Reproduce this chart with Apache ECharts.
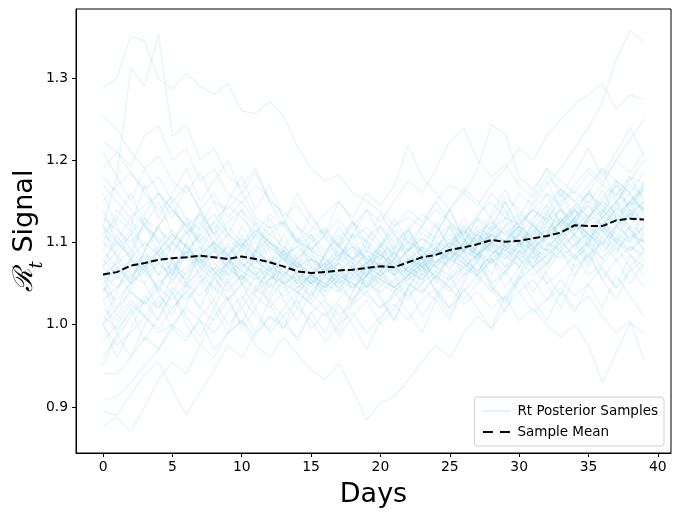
<!DOCTYPE html>
<html>
<head>
<meta charset="utf-8">
<script src="https://cdn.jsdelivr.net/npm/echarts@6/dist/echarts.min.js"></script>
<style>
html,body{margin:0;padding:0;background:#fff;}
#chart{width:680px;height:516px;}
</style>
</head>
<body>
<div id="chart"></div>
<script>
const days = [0,1,2,3,4,5,6,7,8,9,10,11,12,13,14,15,16,17,18,19,20,21,22,23,24,25,26,27,28,29,30,31,32,33,34,35,36,37,38,39];
const xTicks = [0,5,10,15,20,25,30,35,40];
const yTicks = [0.9,1.0,1.1,1.2,1.3];

const sampleMean = [1.061,1.064,1.072,1.075,1.079,1.081,1.082,1.084,1.082,1.080,
  1.083,1.080,1.076,1.071,1.065,1.063,1.064,1.066,1.067,1.069,
  1.071,1.070,1.076,1.082,1.085,1.091,1.094,1.098,1.103,1.101,
  1.102,1.105,1.108,1.112,1.121,1.120,1.120,1.127,1.129,1.128];

const s01 = [1.288,1.300,1.351,1.345,1.299,1.287,1.306,1.290,1.280,1.293,1.260,1.257,1.272,1.254,1.217,1.190,1.175,1.182,1.160,1.150,1.138,1.120,1.131,1.118,1.105,1.122,1.110,1.098,1.115,1.130,1.122,1.140,1.128,1.150,1.162,1.148,1.170,1.158,1.180,1.172];
const s02 = [1.120,1.180,1.313,1.290,1.353,1.229,1.244,1.200,1.215,1.180,1.168,1.190,1.150,1.138,1.120,1.105,1.118,1.096,1.110,1.102,1.085,1.098,1.090,1.112,1.100,1.094,1.120,1.108,1.090,1.085,1.100,1.092,1.110,1.125,1.118,1.135,1.120,1.142,1.130,1.150];
const s03 = [1.254,1.238,1.210,1.190,1.205,1.175,1.160,1.185,1.150,1.140,1.162,1.130,1.118,1.125,1.100,1.092,1.108,1.085,1.095,1.080,1.072,1.088,1.065,1.080,1.092,1.078,1.098,1.085,1.110,1.095,1.088,1.105,1.090,1.115,1.128,1.110,1.098,1.120,1.105,1.118];
const s04 = [1.223,1.210,1.193,1.230,1.242,1.200,1.215,1.175,1.190,1.160,1.148,1.170,1.155,1.132,1.145,1.120,1.110,1.128,1.105,1.118,1.100,1.085,1.102,1.090,1.075,1.095,1.082,1.100,1.088,1.070,1.085,1.075,1.092,1.080,1.098,1.110,1.090,1.105,1.095,1.080];
const s05 = [0.876,0.888,0.870,0.900,0.933,0.955,0.940,0.975,0.960,0.990,1.005,0.985,1.010,1.000,0.985,1.015,1.030,1.012,1.025,1.040,1.020,1.035,1.050,1.038,1.060,1.045,1.070,1.058,1.040,1.065,1.080,1.060,1.075,1.090,1.070,1.085,1.100,1.078,1.095,1.085];
const s06 = [0.895,0.890,0.915,0.940,0.955,0.921,0.890,0.918,0.945,0.975,0.960,0.990,1.010,0.995,1.020,1.005,0.980,1.000,1.015,0.990,1.010,1.025,1.005,1.030,1.045,1.020,1.040,1.060,1.045,1.030,1.055,1.070,1.050,1.065,1.085,1.060,1.075,1.095,1.070,1.090];
const s07 = [0.908,0.912,0.930,0.950,0.970,0.995,0.980,1.010,1.030,1.000,1.020,1.045,1.030,1.055,1.040,1.025,1.050,1.065,1.045,1.060,1.080,1.062,1.075,1.095,1.070,1.088,1.105,1.085,1.100,1.120,1.095,1.110,1.130,1.105,1.125,1.145,1.120,1.140,1.160,1.135];
const s08 = [0.941,0.940,0.960,0.985,0.970,1.000,1.020,1.005,0.990,1.015,1.035,1.010,0.995,1.020,1.040,1.025,1.010,1.030,1.050,1.035,1.020,1.040,1.060,1.045,1.030,1.055,1.075,1.060,1.080,1.065,1.090,1.070,1.085,1.105,1.080,1.095,1.115,1.090,1.110,1.100];
const s09 = [1.020,1.005,1.030,1.010,0.990,1.000,0.985,1.005,0.970,0.990,1.005,0.975,0.960,0.985,0.965,0.945,0.933,0.953,0.920,0.884,0.905,0.912,0.933,0.955,0.975,0.960,0.990,1.010,0.995,1.020,1.040,1.015,1.030,1.055,1.035,1.050,1.070,1.045,1.065,1.080];
const s10 = [1.060,1.045,1.070,1.085,1.060,1.075,1.050,1.065,1.090,1.070,1.055,1.080,1.060,1.045,1.065,1.050,1.035,1.055,1.070,1.045,1.060,1.075,1.050,1.040,1.060,1.045,1.025,1.040,1.020,1.035,1.005,1.020,1.000,0.985,1.000,0.975,0.929,0.966,1.002,0.990];
const s11 = [1.100,1.085,1.060,1.075,1.090,1.070,1.055,1.080,1.065,1.045,1.060,1.040,1.055,1.070,1.050,1.035,1.060,1.045,1.030,1.050,1.065,1.045,1.060,1.080,1.055,1.040,1.060,1.075,1.050,1.065,1.040,1.055,1.030,1.045,1.020,1.035,1.010,0.990,1.005,0.957];
const s12 = [1.050,1.070,1.055,1.080,1.095,1.075,1.060,1.085,1.100,1.080,1.065,1.090,1.075,1.060,1.080,1.095,1.070,1.085,1.100,1.080,1.095,1.115,1.100,1.120,1.140,1.125,1.110,1.135,1.150,1.130,1.160,1.145,1.170,1.190,1.215,1.240,1.270,1.323,1.358,1.344];
const s13 = [1.080,1.100,1.085,1.065,1.090,1.110,1.095,1.075,1.100,1.120,1.100,1.085,1.110,1.095,1.080,1.100,1.115,1.095,1.080,1.105,1.120,1.100,1.115,1.135,1.120,1.140,1.160,1.145,1.170,1.190,1.215,1.200,1.230,1.250,1.268,1.280,1.293,1.262,1.280,1.274];
const s14 = [1.070,1.055,1.080,1.100,1.085,1.065,1.090,1.110,1.095,1.075,1.095,1.115,1.100,1.080,1.095,1.110,1.090,1.105,1.125,1.110,1.095,1.120,1.140,1.125,1.150,1.170,1.160,1.190,1.243,1.232,1.180,1.165,1.190,1.175,1.160,1.185,1.170,1.200,1.185,1.210];
const s15 = [1.040,1.060,1.080,1.065,1.045,1.070,1.090,1.075,1.060,1.085,1.100,1.080,1.065,1.090,1.075,1.060,1.085,1.100,1.120,1.140,1.125,1.150,1.175,1.160,1.190,1.223,1.239,1.200,1.180,1.195,1.170,1.155,1.180,1.165,1.150,1.170,1.190,1.175,1.160,1.185];
const s16 = [1.110,1.130,1.115,1.095,1.120,1.140,1.120,1.100,1.125,1.145,1.130,1.110,1.135,1.120,1.100,1.115,1.135,1.150,1.130,1.160,1.145,1.169,1.218,1.180,1.160,1.140,1.165,1.150,1.130,1.155,1.140,1.120,1.145,1.165,1.150,1.130,1.155,1.175,1.160,1.140];
const s17 = [1.060,1.075,1.090,1.070,1.085,1.100,1.080,1.095,1.075,1.060,1.080,1.070,1.055,1.065,1.050,1.060,1.075,1.060,1.070,1.085,1.070,1.060,1.080,1.095,1.085,1.100,1.090,1.110,1.095,1.105,1.120,1.105,1.115,1.130,1.115,1.125,1.140,1.120,1.135,1.125];
const s18 = [1.030,1.045,1.060,1.050,1.075,1.060,1.085,1.070,1.095,1.080,1.065,1.055,1.070,1.050,1.040,1.055,1.045,1.060,1.050,1.065,1.055,1.045,1.060,1.075,1.065,1.080,1.095,1.085,1.100,1.090,1.110,1.095,1.105,1.120,1.140,1.125,1.115,1.135,1.150,1.140];
const s19 = [1.130,1.115,1.100,1.120,1.105,1.090,1.110,1.125,1.100,1.085,1.105,1.090,1.075,1.090,1.070,1.080,1.065,1.075,1.090,1.075,1.085,1.070,1.080,1.065,1.085,1.100,1.090,1.080,1.100,1.115,1.100,1.090,1.110,1.125,1.140,1.120,1.105,1.130,1.115,1.100];
const s20 = [1.000,1.020,1.040,1.025,1.050,1.065,1.045,1.070,1.055,1.040,1.060,1.080,1.065,1.050,1.060,1.045,1.070,1.055,1.065,1.050,1.040,1.055,1.070,1.060,1.080,1.070,1.090,1.105,1.090,1.080,1.095,1.115,1.100,1.090,1.110,1.130,1.115,1.100,1.120,1.110];
const s21 = [1.170,1.150,1.130,1.145,1.160,1.140,1.120,1.135,1.110,1.125,1.140,1.120,1.100,1.085,1.095,1.080,1.070,1.085,1.075,1.060,1.075,1.065,1.080,1.070,1.090,1.080,1.100,1.090,1.075,1.095,1.110,1.095,1.080,1.100,1.120,1.105,1.125,1.110,1.100,1.120];
const s22 = [0.980,1.000,1.025,1.010,1.035,1.020,1.040,1.060,1.045,1.030,1.050,1.065,1.050,1.035,1.045,1.060,1.050,1.040,1.055,1.070,1.060,1.045,1.065,1.055,1.075,1.090,1.080,1.065,1.085,1.100,1.090,1.080,1.095,1.110,1.095,1.115,1.100,1.120,1.140,1.125];
const s23 = [1.090,1.070,1.050,1.065,1.080,1.100,1.085,1.110,1.125,1.105,1.090,1.110,1.095,1.080,1.070,1.085,1.065,1.080,1.070,1.060,1.075,1.060,1.070,1.085,1.100,1.085,1.075,1.095,1.110,1.100,1.085,1.100,1.120,1.110,1.130,1.150,1.135,1.160,1.145,1.165];
const s24 = [1.150,1.170,1.185,1.160,1.140,1.155,1.130,1.115,1.135,1.110,1.095,1.115,1.100,1.090,1.075,1.090,1.080,1.065,1.080,1.090,1.080,1.095,1.085,1.070,1.085,1.100,1.115,1.100,1.120,1.110,1.125,1.140,1.125,1.110,1.130,1.145,1.130,1.150,1.170,1.155];
const s25 = [1.010,0.995,1.015,1.035,1.020,1.045,1.030,1.050,1.070,1.055,1.075,1.060,1.045,1.060,1.075,1.060,1.045,1.060,1.050,1.040,1.055,1.045,1.035,1.050,1.065,1.055,1.070,1.085,1.075,1.090,1.080,1.070,1.085,1.100,1.085,1.100,1.120,1.105,1.090,1.110];
const s26 = [1.070,1.090,1.110,1.130,1.115,1.100,1.125,1.105,1.090,1.110,1.095,1.080,1.100,1.085,1.070,1.060,1.075,1.090,1.080,1.070,1.085,1.075,1.090,1.105,1.095,1.080,1.100,1.120,1.105,1.090,1.110,1.130,1.145,1.125,1.110,1.130,1.150,1.135,1.120,1.145];
const s27 = [1.045,1.030,1.050,1.070,1.090,1.110,1.095,1.080,1.060,1.075,1.090,1.075,1.095,1.080,1.060,1.050,1.065,1.050,1.065,1.075,1.065,1.080,1.065,1.080,1.070,1.060,1.080,1.095,1.110,1.095,1.115,1.100,1.090,1.110,1.125,1.110,1.095,1.115,1.135,1.150];
const s28 = [1.120,1.100,1.080,1.060,1.075,1.055,1.070,1.085,1.065,1.050,1.070,1.085,1.070,1.060,1.045,1.060,1.050,1.065,1.055,1.070,1.060,1.070,1.055,1.075,1.090,1.105,1.090,1.110,1.125,1.110,1.100,1.120,1.105,1.125,1.145,1.160,1.140,1.125,1.150,1.165];
const s29 = [1.180,1.160,1.140,1.120,1.100,1.115,1.095,1.075,1.090,1.070,1.055,1.070,1.060,1.050,1.065,1.055,1.040,1.055,1.045,1.060,1.050,1.040,1.055,1.070,1.060,1.080,1.070,1.085,1.100,1.085,1.070,1.090,1.075,1.095,1.110,1.095,1.080,1.100,1.085,1.070];
const s30 = [0.960,0.985,1.010,1.030,1.055,1.040,1.065,1.085,1.100,1.085,1.070,1.090,1.105,1.085,1.070,1.080,1.065,1.050,1.060,1.075,1.090,1.075,1.060,1.075,1.095,1.110,1.095,1.115,1.100,1.120,1.135,1.120,1.105,1.125,1.145,1.130,1.150,1.170,1.155,1.140];
const s31 = [1.190,1.210,1.185,1.165,1.180,1.150,1.170,1.140,1.160,1.130,1.150,1.125,1.110,1.125,1.105,1.090,1.110,1.095,1.080,1.095,1.085,1.070,1.090,1.105,1.090,1.075,1.090,1.110,1.095,1.080,1.100,1.115,1.135,1.120,1.140,1.160,1.145,1.130,1.150,1.170];
const s32 = [1.080,1.060,1.040,1.025,1.045,1.030,1.050,1.035,1.055,1.075,1.060,1.045,1.065,1.080,1.065,1.050,1.065,1.080,1.095,1.080,1.065,1.050,1.070,1.085,1.070,1.090,1.080,1.065,1.085,1.100,1.120,1.105,1.125,1.140,1.125,1.110,1.130,1.150,1.175,1.200];
const s33 = [1.000,0.975,0.990,1.010,0.995,1.020,1.040,1.020,1.005,1.030,1.050,1.035,1.020,1.040,1.055,1.040,1.060,1.075,1.060,1.045,1.065,1.080,1.065,1.055,1.075,1.090,1.075,1.060,1.080,1.095,1.080,1.100,1.115,1.095,1.080,1.105,1.120,1.100,1.090,1.105];
const s34 = [1.110,1.095,1.115,1.135,1.160,1.140,1.120,1.100,1.080,1.095,1.075,1.060,1.080,1.065,1.055,1.070,1.060,1.045,1.060,1.075,1.095,1.080,1.100,1.090,1.075,1.095,1.110,1.130,1.115,1.100,1.120,1.140,1.160,1.145,1.170,1.190,1.175,1.200,1.225,1.250];
const s35 = [1.100,1.140,1.120,1.170,1.130,1.160,1.190,1.150,1.175,1.200,1.160,1.185,1.150,1.120,1.160,1.130,1.110,1.150,1.125,1.100,1.135,1.110,1.090,1.120,1.150,1.125,1.100,1.130,1.160,1.140,1.110,1.150,1.175,1.140,1.120,1.160,1.190,1.150,1.130,1.170];
const s36 = [1.030,0.990,1.020,0.980,1.010,1.040,1.000,0.975,1.010,1.035,0.995,1.020,0.990,1.010,1.030,0.995,1.015,0.985,1.010,1.030,1.000,1.020,1.045,1.010,1.035,1.060,1.030,1.050,1.080,1.045,1.070,1.040,1.065,1.090,1.060,1.085,1.055,1.080,1.050,1.075];
const s37 = [1.070,1.110,1.080,1.130,1.100,1.060,1.100,1.140,1.110,1.080,1.120,1.090,1.130,1.100,1.070,1.105,1.085,1.120,1.095,1.060,1.095,1.130,1.100,1.070,1.110,1.140,1.105,1.080,1.115,1.150,1.120,1.090,1.135,1.165,1.130,1.100,1.140,1.175,1.140,1.110];
const s38 = [1.050,1.010,1.045,1.075,1.040,1.010,1.050,1.020,1.060,1.030,1.000,1.040,1.070,1.030,1.005,1.040,1.020,0.990,1.030,1.060,1.030,1.005,1.045,1.070,1.040,1.020,1.055,1.085,1.050,1.025,1.060,1.090,1.060,1.035,1.075,1.100,1.065,1.045,1.085,1.060];
const s39 = [1.140,1.100,1.130,1.090,1.120,1.150,1.110,1.135,1.095,1.060,1.095,1.125,1.090,1.055,1.085,1.110,1.075,1.040,1.075,1.100,1.065,1.095,1.120,1.085,1.055,1.090,1.120,1.090,1.060,1.100,1.130,1.095,1.070,1.110,1.140,1.105,1.080,1.120,1.150,1.120];
const s40 = [1.000,1.040,1.080,1.050,1.020,1.060,1.100,1.070,1.040,1.075,1.110,1.080,1.045,1.090,1.120,1.090,1.060,1.095,1.125,1.090,1.055,1.090,1.115,1.080,1.110,1.140,1.105,1.075,1.110,1.140,1.100,1.070,1.110,1.145,1.110,1.080,1.120,1.150,1.115,1.090];
const s41 = [1.160,1.120,1.090,1.125,1.085,1.050,1.090,1.060,1.030,1.070,1.100,1.065,1.035,1.075,1.105,1.070,1.040,1.080,1.110,1.075,1.045,1.080,1.110,1.080,1.050,1.085,1.115,1.085,1.120,1.150,1.115,1.085,1.125,1.160,1.125,1.095,1.135,1.170,1.135,1.100];
const s42 = [1.090,1.130,1.160,1.120,1.150,1.110,1.080,1.120,1.150,1.110,1.140,1.100,1.070,1.110,1.080,1.050,1.085,1.110,1.075,1.045,1.080,1.110,1.080,1.050,1.090,1.120,1.090,1.060,1.100,1.130,1.095,1.125,1.160,1.120,1.090,1.130,1.165,1.130,1.100,1.140];
const s43 = [0.950,0.990,0.960,1.000,1.030,0.995,1.025,1.055,1.020,0.990,1.030,1.060,1.025,0.995,1.035,1.065,1.030,1.000,1.040,1.070,1.035,1.005,1.045,1.075,1.040,1.010,1.050,1.080,1.045,1.015,1.055,1.085,1.050,1.020,1.060,1.090,1.055,1.030,1.070,1.045];
const s44 = [1.120,1.080,1.110,1.070,1.040,1.080,1.050,1.090,1.120,1.085,1.050,1.090,1.120,1.090,1.060,1.030,1.070,1.100,1.065,1.090,1.120,1.090,1.060,1.095,1.125,1.090,1.060,1.100,1.130,1.095,1.070,1.110,1.140,1.100,1.130,1.165,1.130,1.100,1.140,1.175];
const s45 = [1.060,1.020,1.055,1.090,1.120,1.085,1.115,1.080,1.045,1.080,1.050,1.020,1.055,1.085,1.050,1.080,1.045,1.075,1.040,1.070,1.100,1.065,1.095,1.060,1.090,1.120,1.085,1.115,1.080,1.060,1.090,1.125,1.095,1.130,1.100,1.070,1.105,1.085,1.120,1.090];
const s46 = [1.040,1.080,1.050,1.090,1.060,1.100,1.130,1.095,1.065,1.100,1.075,1.110,1.080,1.050,1.020,1.055,1.085,1.055,1.025,1.060,1.090,1.060,1.030,1.065,1.095,1.065,1.100,1.130,1.100,1.070,1.100,1.080,1.110,1.140,1.105,1.075,1.110,1.145,1.180,1.150];
const s47 = [1.210,1.180,1.150,1.190,1.160,1.130,1.170,1.140,1.110,1.150,1.180,1.140,1.170,1.130,1.100,1.135,1.105,1.080,1.110,1.140,1.110,1.080,1.115,1.090,1.120,1.095,1.130,1.100,1.135,1.165,1.130,1.160,1.190,1.155,1.185,1.215,1.180,1.210,1.240,1.205];
const s48 = [1.000,0.960,0.995,1.030,1.005,1.040,1.010,0.985,1.020,1.055,1.020,0.990,1.030,1.010,0.980,1.015,0.990,1.025,1.000,0.970,1.005,1.040,1.015,0.990,1.030,1.005,1.045,1.020,0.995,1.035,1.060,1.030,1.005,1.040,1.015,1.050,1.020,1.060,1.035,1.010];

const samples = [s01,s02,s03,s04,s05,s06,s07,s08,s09,s10,s11,s12,s13,s14,s15,s16,s17,s18,s19,s20,s21,s22,s23,s24,
  s25,s26,s27,s28,s29,s30,s31,s32,s33,s34,s35,s36,s37,s38,s39,s40,s41,s42,s43,s44,s45,s46,s47,s48];

const chart = echarts.init(document.getElementById('chart'), null, {renderer: 'canvas'});
const FONT = 'DejaVu Sans';
const pair = arr => days.map((d, i) => [d, arr[i]]);

const series = samples.map(arr => ({
  name: 'Rt Posterior Samples',
  type: 'line',
  data: pair(arr),
  symbol: 'none',
  silent: true,
  lineStyle: {color: '#87CEEB', width: 1.5, opacity: 0.19},
  itemStyle: {color: '#87CEEB'},
  z: 2
}));
series.push({
  name: 'Sample Mean',
  type: 'line',
  data: pair(sampleMean),
  symbol: 'none',
  lineStyle: {color: '#000', width: 2, type: [7, 3]},
  itemStyle: {color: '#000'},
  z: 5
});

chart.setOption({
  animation: false,
  backgroundColor: '#fff',
  grid: {left: 76, top: 9, right: 9, bottom: 63, show: true, borderColor: '#000', borderWidth: 1,
    backgroundColor: 'transparent', containLabel: false, outerBoundsMode: 'none'},
  legend: {
    data: [
      {name: 'Rt Posterior Samples', icon: 'path://M0,0H28V2H0Z', itemStyle: {color: 'rgba(135,206,235,0.25)'}},
      {name: 'Sample Mean', icon: 'path://M0,0H10V2H0Z M17,0H27V2H17Z', itemStyle: {color: '#000'}}
    ],
    orient: 'vertical', right: 16, bottom: 70,
    itemWidth: 28, itemHeight: 2, itemGap: 5,
    backgroundColor: '#fff', borderColor: '#d0d0d0', borderWidth: 1, borderRadius: 3,
    padding: [6, 6, 6, 8],
    textStyle: {fontFamily: FONT, fontSize: 13.5, color: '#000', lineHeight: 16, padding: [0, 0, 0, 2]}
  },
  xAxis: {
    type: 'value', min: -1.95, max: 40.95,
    name: 'Days', nameLocation: 'middle', nameGap: 28, nameMoveOverlap: false,
    nameTextStyle: {fontFamily: FONT, fontSize: 27, color: '#000'},
    axisLine: {show: true, onZero: false, lineStyle: {color: '#000', width: 1}},
    axisTick: {show: true, length: 4, customValues: xTicks, lineStyle: {color: '#000'}},
    axisLabel: {customValues: xTicks, margin: 7, fontFamily: FONT, fontSize: 13.9, color: '#000'},
    splitLine: {show: false}
  },
  yAxis: {
    type: 'value', min: 0.844, max: 1.384,
    name: '{r|ℛ}{t|t} Signal', nameLocation: 'middle', nameGap: 30, nameRotate: 90, nameMoveOverlap: false,
    nameTextStyle: {fontFamily: FONT, fontSize: 27, color: '#000',
      rich: {
        r: {fontFamily: 'DejaVu Serif', fontStyle: 'italic', fontSize: 27, color: '#000'},
        t: {fontFamily: 'DejaVu Serif', fontStyle: 'italic', fontSize: 18, color: '#000', verticalAlign: 'bottom', lineHeight: 42}
      }
    },
    axisLine: {show: true, onZero: false, lineStyle: {color: '#000', width: 1}},
    axisTick: {show: true, length: 4, customValues: yTicks, lineStyle: {color: '#000'}},
    axisLabel: {customValues: yTicks, margin: 8, fontFamily: FONT, fontSize: 13.9, color: '#000', formatter: v => v.toFixed(1)},
    splitLine: {show: false}
  },
  series: series
});
</script>
</body>
</html>
